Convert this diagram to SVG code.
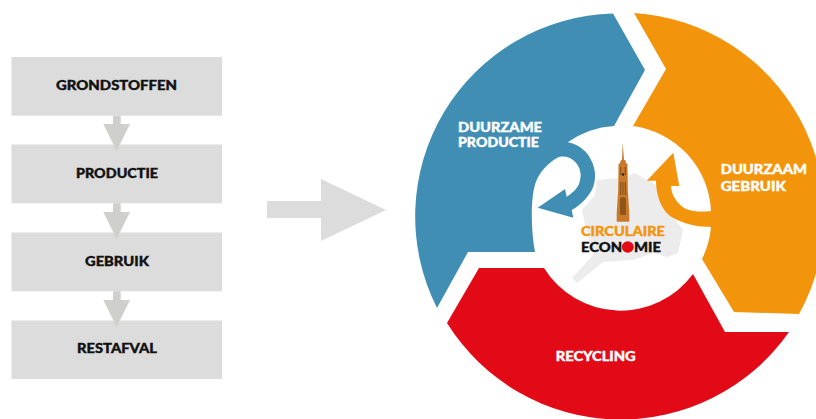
<svg xmlns="http://www.w3.org/2000/svg" width="816" height="419" viewBox="0 0 816 419">
<style>
text{font-family:"Lato","Liberation Sans",sans-serif;font-weight:900;font-size:14px;stroke-width:.4px}
.box{fill:#dcdcdc}
.dk{fill:#111;stroke:#111}
.wt{fill:#fff;stroke:#fff}
.conn{fill:#cfcfcb}
</style>
<rect width="816" height="419" fill="#fff"/>
<g id="box-grondstoffen"><rect class="box" x="11.500" y="57" width="210.500" height="58.700"/><text class="dk" x="56" y="90" textLength="121" lengthAdjust="spacingAndGlyphs">GRONDSTOFFEN</text></g>
<g id="box-productie"><rect class="box" x="11.500" y="144.500" width="210.500" height="58.800"/><text class="dk" x="76" y="178" textLength="82" lengthAdjust="spacingAndGlyphs">PRODUCTIE</text></g>
<g id="box-gebruik"><rect class="box" x="11.500" y="232.500" width="210.500" height="58.800"/><text class="dk" x="85" y="266" textLength="64" lengthAdjust="spacingAndGlyphs">GEBRUIK</text></g>
<g id="box-restafval"><rect class="box" x="11.500" y="320.500" width="210.500" height="58.500"/><text class="dk" x="77" y="353" textLength="80" lengthAdjust="spacingAndGlyphs">RESTAFVAL</text></g>
<g id="connectors">
<path class="conn" d="M113 115.700h7.700V124H130L116.700 151 103.300 124H113Z"/>
<path class="conn" d="M113 203.300h7.700V212H130L116.700 239 103.300 212H113Z"/>
<path class="conn" d="M113 291.300h7.700V300H130L116.700 327 103.300 300H113Z"/>
<path class="box" d="M267 201H321V179L386 210 321 241V218H267Z"/>
</g>
<g id="center-map"><path fill="#ececec" d="M597 180 620 178 635 173 647 180 660 187 670 213 683 230 678 253 667 257 653 253 633 260 603 262 577 283 572 278 595 253 587 233 582 210 595 195Z"/></g>
<g id="segment-blue"><path fill="#418eb5" d="M613 13.500 645 70 614 126A90 90 0 0 0 567.700 142.300C577 144 586 150 590 158 596 168 596 178 593.300 186.700 590 195 581 205 571.700 210L573.300 217.700 537.700 207.700 565 189 566.700 196.700C574 192 579 187 580 180 582 172 579 166 575 161.700 570 157 563 155 557 158 548 163 540 172 536.700 180 531 192 530 225 535 252H468L437 308A203 203 0 0 1 613 13.500Z"/><text class="wt" x="458" y="131.500" textLength="84" lengthAdjust="spacingAndGlyphs">DUURZAME</text><text class="wt" x="458" y="147" textLength="81" lengthAdjust="spacingAndGlyphs">PRODUCTIE</text></g>
<g id="segment-orange"><path fill="#f3950c" d="M634 13A203 203 0 0 1 799 314L734 312 702 259A90 90 0 0 0 711 227C698 227 682 224 670 216 661 209 656 195 656 180.700H646.700L673.300 152.700 679.300 186H671C671 194 677 204 685 208.500 693 212 703 212 711 211A90 90 0 0 0 633 126L666 69Z"/><text class="wt" x="720.700" y="174" textLength="86.300" lengthAdjust="spacingAndGlyphs">DUURZAAM</text><text class="wt" x="720.700" y="191" textLength="65.300" lengthAdjust="spacingAndGlyphs">GEBRUIK</text></g>
<g id="segment-red"><path fill="#e30a17" d="M479 268H544A90 90 0 0 0 693 274L725 332H789A205 205 0 0 1 447 323Z"/><text class="wt" x="555.700" y="360.700" textLength="80" lengthAdjust="spacingAndGlyphs">RECYCLING</text></g>
<g id="center-label">
<path fill="#c87a2a" d="M622.700 143 624 160 625.300 160 626 163 627.500 164 627.800 190 629.300 213V221.700H616.700V213L618.200 190 618.500 164 620 163 621 160 622 160Z"/>
<path fill="#8f5518" d="M620 200a3 3 0 0 1 6 0V215H620Z"/>
<path fill="#8f5518" d="M620 182h1.300v13H620ZM622.300 182h1.300v13h-1.300ZM624.700 182h1.300v13h-1.300ZM620 167h1.300v8H620ZM624.700 167h1.300v8h-1.300Z"/>
<circle cx="623" cy="174.500" r="1.200" fill="#222"/>
<text x="581" y="236" fill="#f3950c" stroke="#f3950c" textLength="84" lengthAdjust="spacingAndGlyphs">CIRCULAIRE</text>
<text x="581" y="252" fill="#111" stroke="#111" textLength="80" lengthAdjust="spacingAndGlyphs">ECON<tspan fill="#e30a17" stroke="#e30a17">O</tspan>MIE</text>
<circle cx="627.700" cy="247" r="5.700" fill="#e30a17"/>
</g>
</svg>
